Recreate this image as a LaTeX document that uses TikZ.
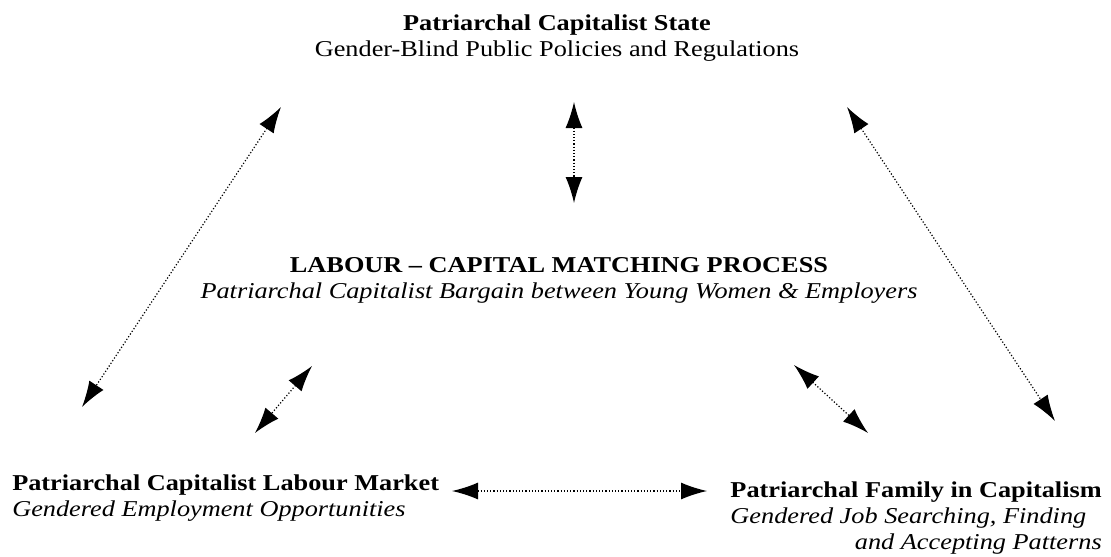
\documentclass[tikz,border=0pt]{standalone}
\usepackage{fontspec}
\setmainfont{Liberation Serif}[FakeStretch=1.16]
\usetikzlibrary{arrows.meta}

\begin{document}
\begin{tikzpicture}[x=0.75pt,y=-0.75pt,
    lbl/.style={inner sep=0pt,font=\fontsize{17}{19.5}\selectfont},
    link/.style={>={Latex[length=19.5pt,width=12.75pt]},<->,
      dash pattern=on 0.9pt off 1.5pt,line width=0.9pt}]
  \useasboundingbox (0,0) rectangle (1111,557);
  % the four actors
  \node[lbl,align=center] (state) at (557,38)
    {\textbf{Patriarchal Capitalist State}\\Gender-Blind Public Policies and Regulations};
  \node[lbl,align=center] (match) at (559,280)
    {\textbf{LABOUR -- CAPITAL MATCHING PROCESS}\\
     \textit{Patriarchal Capitalist Bargain between Young Women \& Employers}};
  \node[lbl,align=left,anchor=north west] (market) at (12,474)
    {\textbf{Patriarchal Capitalist Labour Market}\\
     \textit{Gendered Employment Opportunities}};
  \node[lbl,anchor=north east] (family) at (1102,479)
    {\begin{tabular}{@{}l@{}}
       \textbf{Patriarchal Family in Capitalism}\\
       \textit{Gendered Job Searching, Finding}\\
       \multicolumn{1}{@{}r@{}}{\textit{and Accepting Patterns}}
     \end{tabular}};
  % arrow ends
  \coordinate (s1) at (574,102);  \coordinate (m1) at (574,203);
  \coordinate (s2) at (281,107);  \coordinate (l2) at (82,407);
  \coordinate (s3) at (847,107);  \coordinate (f3) at (1055,421);
  \coordinate (m4) at (312,366);  \coordinate (l4) at (255,433);
  \coordinate (m5) at (794,365);  \coordinate (f5) at (868,433);
  \coordinate (l6) at (452,491);  \coordinate (f6) at (707,491);
  \begin{scope}[link]
    \draw (s1) to (m1);
    \draw (s2) to (l2);
    \draw (s3) to (f3);
    \draw (m4) to (l4);
    \draw (m5) to (f5);
    \draw (l6) to (f6);
  \end{scope}
\end{tikzpicture}
\end{document}
